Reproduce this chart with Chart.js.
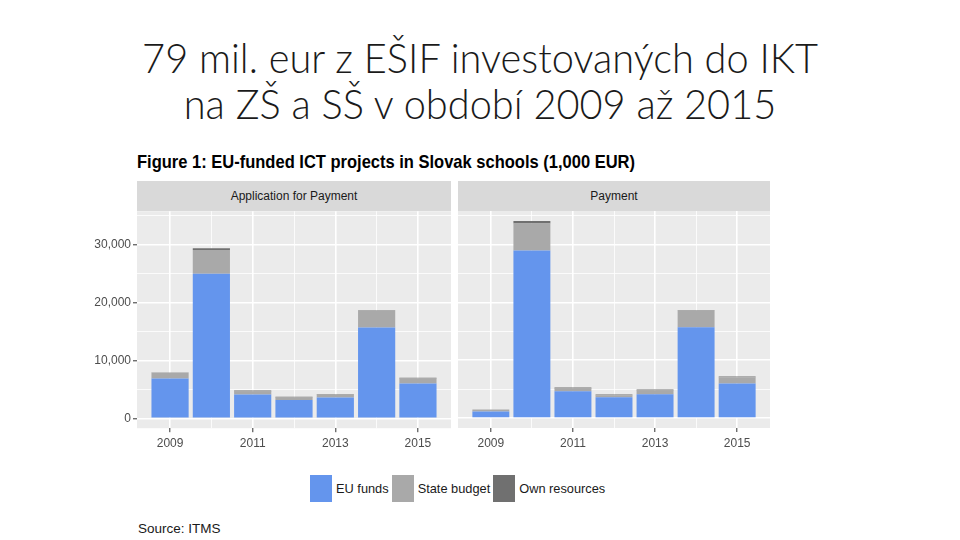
<!DOCTYPE html>
<html lang="en">

<head>
    <meta charset="UTF-8">
    <title>EU-funded ICT projects in Slovak schools</title>
    <script src="https://cdn.jsdelivr.net/npm/chart.js"></script>
    <style>
        body {
            margin: 0;
            width: 960px;
            height: 540px;
            background: white;
            position: relative;
            overflow: hidden;
            font-family: 'Liberation Sans', Arial, sans-serif;
        }

        .slide-title {
            position: absolute;
            left: 0;
            top: 34px;
            width: 960px;
            text-align: center;
            font-family: 'Lato', sans-serif;
            font-weight: 300;
            font-size: 42px;
            line-height: 46px;
            color: #1a1a1a;
        }

        .slide-title span {
            display: inline-block;
            white-space: nowrap;
        }

        .fig-title {
            position: absolute;
            left: 137px;
            top: 152px;
            font-weight: bold;
            font-size: 19px;
            line-height: 20px;
            color: #000;
            white-space: nowrap;
            transform-origin: 0 0;
        }

        .strip {
            position: absolute;
            top: 181px;
            height: 30px;
            line-height: 30px;
            background: #d9d9d9;
            text-align: center;
            font-size: 12px;
            color: #1a1a1a;
        }

        canvas {
            position: absolute;
        }

        .legend {
            position: absolute;
            top: 475px;
            left: 310px;
            height: 27px;
            display: flex;
            align-items: center;
            font-size: 12.8px;
            color: #1a1a1a;
        }

        .legend .sw {
            width: 22px;
            height: 27px;
            margin-right: 4px;
        }

        .legend .item {
            display: flex;
            align-items: center;
            margin-right: 3px;
        }

        .source {
            position: absolute;
            left: 138px;
            top: 521px;
            font-size: 13.5px;
            color: #1a1a1a;
        }
    </style>
</head>

<body>
    <div class="slide-title">
        <span id="t1">79 mil. eur z EŠIF investovaných do IKT</span><br>
        <span id="t2">na ZŠ a SŠ v období 2009 až 2015</span>
    </div>
    <div class="fig-title" id="figTitle">Figure 1: EU-funded ICT projects in Slovak schools (1,000 EUR)</div>

    <div class="strip" style="left:137px;width:314px;">Application for Payment</div>
    <div class="strip" style="left:458px;width:312px;">Payment</div>

    <canvas id="appChart" width="391" height="244" style="left:60px;top:211px;"></canvas>
    <canvas id="payChart" width="312" height="244" style="left:458px;top:211px;"></canvas>

    <div class="legend">
        <div class="item"><div class="sw" style="background:#6495ed"></div>EU funds</div>
        <div class="item"><div class="sw" style="background:#a9a9a9"></div>State budget</div>
        <div class="item"><div class="sw" style="background:#707070"></div>Own resources</div>
    </div>
    <div class="source">Source: ITMS</div>

    <script>
        // values in 1,000 EUR
        const years = [2009, 2010, 2011, 2012, 2013, 2014, 2015];
        const xTicks = [2009, 2011, 2013, 2015];
        const yTicks = [0, 10000, 20000, 30000];
        const yGrid = [0, 5000, 10000, 15000, 20000, 25000, 30000, 35000];

        const appEU = [6900, 25000, 4140, 3170, 3620, 15690, 6030];
        const appState = [980, 4090, 520, 450, 470, 2870, 860];
        const appOwn = [30, 290, 170, 120, 60, 100, 120];

        const payEU = [1150, 28970, 4660, 3620, 4140, 15690, 5980];
        const payState = [340, 4660, 460, 340, 640, 2870, 1090];
        const payOwn = [20, 460, 170, 120, 170, 100, 120];

        const seriesNames = ['EU funds', 'State budget', 'Own resources'];
        const seriesColors = ['#6495ed', '#a9a9a9', '#707070'];

        // squeeze the titles to the width used on the slide
        const t1 = document.getElementById('t1');
        const t2 = document.getElementById('t2');
        const sx = 676 / t1.getBoundingClientRect().width;
        t1.style.transform = t2.style.transform = `scaleX(${sx})`;
        const ft = document.getElementById('figTitle');
        ft.style.transform = `scaleX(${498 / ft.getBoundingClientRect().width})`;

        const panelBg = {
            id: 'panelBg',
            beforeDraw(chart) {
                const a = chart.chartArea;
                const ctx = chart.ctx;
                ctx.save();
                ctx.fillStyle = '#ebebeb';
                ctx.fillRect(a.left, a.top, a.right - a.left, a.bottom - a.top);
                ctx.restore();
            }
        };

        const isMajor = (c, list) => c.tick && list.includes(c.tick.value);

        function makeChart(id, values, showY) {
            const ctx = document.getElementById(id).getContext('2d');
            return new Chart(ctx, {
                type: 'bar',
                data: {
                    datasets: values.map((vals, i) => ({
                        label: seriesNames[i],
                        data: years.map((y, j) => ({ x: y, y: vals[j] })),
                        backgroundColor: seriesColors[i],
                        borderWidth: 0,
                        categoryPercentage: 0.9,
                        barPercentage: 1,
                        stack: 'total'
                    }))
                },
                options: {
                    responsive: false,
                    maintainAspectRatio: false,
                    animation: false,
                    layout: { padding: 0 },
                    plugins: {
                        legend: { display: false },
                        tooltip: { enabled: false }
                    },
                    scales: {
                        x: {
                            type: 'linear',
                            stacked: true,
                            offset: false,
                            min: 2008.2,
                            max: 2015.8,
                            afterBuildTicks: s => { s.ticks = years.map(v => ({ value: v })); },
                            afterFit: s => { s.height = 27; },
                            border: { display: false },
                            grid: {
                                offset: false,
                                color: '#ffffff',
                                lineWidth: c => isMajor(c, xTicks) ? 1.6 : 0.8,
                                tickColor: c => isMajor(c, xTicks) ? '#333333' : 'rgba(0,0,0,0)',
                                tickLength: 4,
                                tickWidth: 1
                            },
                            ticks: {
                                autoSkip: false,
                                maxRotation: 0,
                                padding: 4,
                                color: '#4d4d4d',
                                font: { family: 'Liberation Sans', size: 12 },
                                callback: v => xTicks.includes(v) ? String(v) : ''
                            }
                        },
                        y: {
                            stacked: true,
                            min: -1700,
                            max: 35800,
                            afterBuildTicks: s => { s.ticks = yGrid.map(v => ({ value: v })); },
                            afterFit: s => { s.width = showY ? 77 : 0; },
                            border: { display: false },
                            grid: {
                                color: '#ffffff',
                                lineWidth: c => isMajor(c, yTicks) ? 1.6 : 0.8,
                                drawTicks: showY,
                                tickColor: c => isMajor(c, yTicks) ? '#333333' : 'rgba(0,0,0,0)',
                                tickLength: 4,
                                tickWidth: 1
                            },
                            ticks: {
                                display: showY,
                                padding: 2,
                                color: '#4d4d4d',
                                font: { family: 'Liberation Sans', size: 12 },
                                callback: v => yTicks.includes(v) ? v.toLocaleString('en-US') : ''
                            }
                        }
                    }
                },
                plugins: [panelBg]
            });
        }

        // move/resize a canvas so its chart area sits on the panel box
        function fitPanel(chart, left, top, w, h) {
            for (let k = 0; k < 3; k++) {
                const a = chart.chartArea;
                const padL = a.left, padT = a.top;
                const padR = chart.width - a.right, padB = chart.height - a.bottom;
                chart.resize(w + padL + padR, h + padT + padB);
                chart.canvas.style.left = (left - padL) + 'px';
                chart.canvas.style.top = (top - padT) + 'px';
            }
        }

        const appChart = makeChart('appChart', [appEU, appState, appOwn], true);
        const payChart = makeChart('payChart', [payEU, payState, payOwn], false);
        fitPanel(appChart, 137, 211, 314, 217);
        fitPanel(payChart, 458, 211, 312, 217);
    </script>
</body>

</html>
